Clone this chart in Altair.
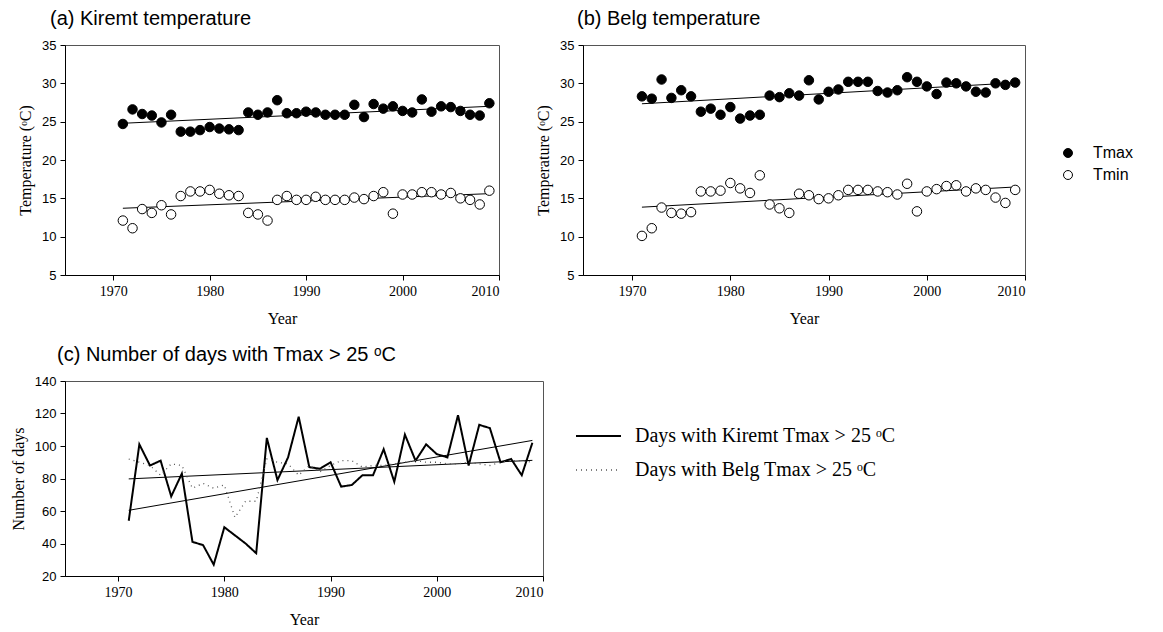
import altair as alt
import pandas as pd

# ---------------- data ----------------
years = list(range(1971, 2010))

kiremt_tmax = [24.7, 26.6, 26.0, 25.8, 24.9, 25.9, 23.7, 23.7, 23.9, 24.3,
               24.1, 24.0, 23.9, 26.2, 25.9, 26.2, 27.8, 26.1, 26.1, 26.3,
               26.2, 25.9, 25.9, 25.9, 27.2, 25.6, 27.3, 26.7, 27.0, 26.4,
               26.2, 27.9, 26.3, 27.0, 26.9, 26.4, 25.9, 25.8, 27.4]
kiremt_tmin = [12.1, 11.1, 13.6, 13.1, 14.1, 12.9, 15.3, 15.9, 15.9, 16.1,
               15.6, 15.4, 15.3, 13.1, 12.9, 12.1, 14.8, 15.3, 14.8, 14.8,
               15.2, 14.8, 14.8, 14.8, 15.1, 14.9, 15.3, 15.8, 13.0, 15.5,
               15.5, 15.8, 15.8, 15.5, 15.7, 15.0, 14.8, 14.2, 16.0]
belg_tmax = [28.3, 28.0, 30.5, 28.1, 29.1, 28.3, 26.3, 26.7, 25.9, 26.9,
             25.4, 25.8, 25.9, 28.4, 28.2, 28.7, 28.4, 30.4, 27.9, 28.9,
             29.2, 30.2, 30.2, 30.2, 29.0, 28.8, 29.1, 30.8, 30.2, 29.6,
             28.6, 30.1, 30.0, 29.6, 28.9, 28.8, 30.0, 29.8, 30.1]
belg_tmin = [10.1, 11.1, 13.8, 13.1, 13.0, 13.2, 15.9, 15.9, 16.0, 17.0,
             16.3, 15.7, 18.0, 14.2, 13.7, 13.1, 15.6, 15.4, 14.9, 15.0,
             15.4, 16.1, 16.1, 16.1, 15.9, 15.8, 15.5, 16.9, 13.3, 15.9,
             16.2, 16.6, 16.7, 15.9, 16.3, 16.1, 15.1, 14.4, 16.1]
days_kiremt = [54, 101, 88, 91, 69, 83, 41, 39, 27, 50,
               45, 40, 34, 105, 79, 93, 118, 87, 86, 90,
               75, 76, 82, 82, 98, 78, 107, 91, 101, 95,
               93, 119, 88, 113, 111, 90, 92, 82, 102]
days_belg = [92, 90, 88, 82, 89, 88, 74, 77, 74, 76,
             56, 66, 66, 92, 90, 89, 82, 88, 84, 88,
             91, 91, 87, 88, 88, 89, 90, 91, 90, 90,
             89, 89, 90, 89, 88, 90, 91, 91, 90]

x_ticks = [1970, 1980, 1990, 2000, 2010]
temp_ticks = [5, 10, 15, 20, 25, 30, 35]
days_ticks = [20, 40, 60, 80, 100, 120, 140]
temp_series = ["Tmax", "Tmin"]
days_series = ["Days with Kiremt Tmax > 25 \u1d52C", "Days with Belg Tmax > 25 \u1d52C"]

SERIF = "Liberation Serif"
SANS = "Liberation Sans"
n = len(years)


def x_enc():
    return alt.X("Year:Q", scale=alt.Scale(domain=[1965, 2010], nice=False, zero=False),
                 axis=alt.Axis(values=x_ticks, format="d", title="Year"))


def temp_panel(tmax, tmin, title, width, dx):
    df = pd.DataFrame({"Year": years * 2, "value": tmax + tmin,
                       "series": [temp_series[0]] * n + [temp_series[1]] * n})
    base = alt.Chart(df)
    y = alt.Y("value:Q", scale=alt.Scale(domain=[5, 35], nice=False, zero=False),
              axis=alt.Axis(values=temp_ticks, title="Temperature (\u1d52C)"))
    reg = base.transform_regression("Year", "value", groupby=["series"], extent=[1971, 2009]) \
        .mark_line(color="black", strokeWidth=1).encode(x=x_enc(), y=y, detail="series:N")
    pts = base.mark_point(filled=True, size=90, stroke="black", strokeWidth=1, opacity=1).encode(
        x=x_enc(), y=y,
        fill=alt.Fill("series:N", scale=alt.Scale(domain=temp_series, range=["black", "white"]),
                      legend=alt.Legend(title=None, orient="none", legendX=995, legendY=100,
                                        symbolType="circle", symbolSize=80,
                                        symbolStrokeColor="black", symbolStrokeWidth=1,
                                        symbolOpacity=1, labelFont=SANS, labelFontSize=16,
                                        labelColor="black", labelOffset=17, rowPadding=6,
                                        padding=0)))
    return alt.layer(reg, pts).properties(
        width=width, height=230,
        title=alt.TitleParams(title, anchor="start", frame="group", dx=dx, offset=10))


panel_a = temp_panel(kiremt_tmax, kiremt_tmin, "(a) Kiremt temperature", 434, -15)
panel_b = temp_panel(belg_tmax, belg_tmin, "(b) Belg temperature", 442, -6)

df_days = pd.DataFrame({"Year": years * 2, "value": days_kiremt + days_belg,
                        "series": [days_series[0]] * n + [days_series[1]] * n})
base_c = alt.Chart(df_days)
y_c = alt.Y("value:Q", scale=alt.Scale(domain=[20, 140], nice=False, zero=False),
            axis=alt.Axis(values=days_ticks, title="Number of days"))
lines_c = base_c.mark_line().encode(
    x=x_enc(), y=y_c,
    stroke=alt.Stroke("series:N", scale=alt.Scale(domain=days_series, range=["black", "#555555"]),
                      legend=alt.Legend(title=None, orient="none", legendX=510, legendY=381,
                                        symbolType="stroke", symbolSize=2025, clipHeight=20,
                                        labelFont=SERIF, labelFontSize=20, labelColor="black",
                                        labelOffset=13, rowPadding=14, padding=0,
                                        labelLimit=400)),
    strokeDash=alt.StrokeDash("series:N", scale=alt.Scale(domain=days_series, range=[[1, 0], [1, 4]])),
    strokeWidth=alt.StrokeWidth("series:N", scale=alt.Scale(domain=days_series, range=[2, 1.3])),
)
reg_c = base_c.transform_regression("Year", "value", groupby=["series"], extent=[1971, 2009]) \
    .mark_line(color="black", strokeWidth=1).encode(x=x_enc(), y=y_c, detail="series:N")
panel_c = alt.layer(reg_c, lines_c).properties(
    width=478, height=195,
    title=alt.TitleParams("(c) Number of days with Tmax > 25 \u1d52C", anchor="start",
                          frame="group", dx=-8, offset=10))

chart = alt.concat(panel_a, panel_b, panel_c, columns=2, align="each", bounds="flush",
                   spacing=alt.RowColnumber(row=106, column=40)).properties(
    padding={"left": 1, "top": 0, "right": 5, "bottom": 5}
).configure_view(stroke="#555555", strokeWidth=1).configure_axis(
    grid=False, domainColor="black", tickColor="black", tickSize=5,
    titleFont=SERIF, titleFontSize=16, titleFontWeight="normal", titleColor="black",
    labelColor="black"
).configure_axisX(
    labelFont=SERIF, labelFontSize=14, labelPadding=4, titlePadding=12
).configure_axisY(
    labelFont=SANS, labelFontSize=13, labelPadding=4, titlePadding=8
).configure_title(
    font=SANS, fontSize=20, fontWeight="normal", color="black"
)

chart.save("out.html", embed_options={"renderer": "svg", "actions": False})
